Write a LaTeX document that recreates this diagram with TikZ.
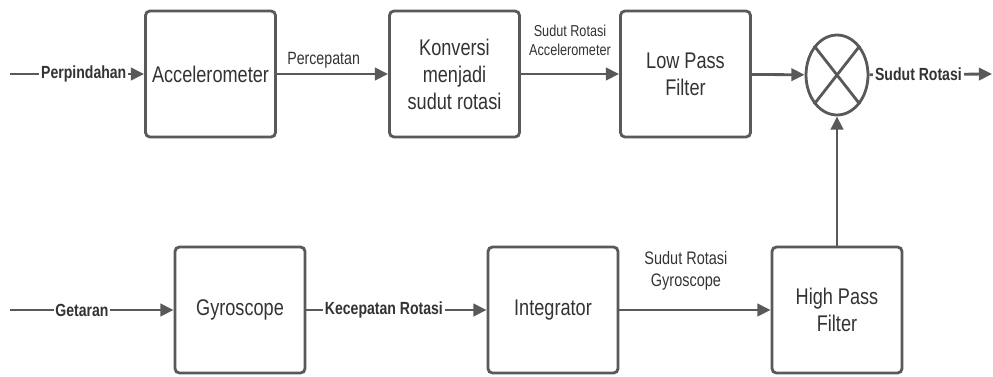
\documentclass[tikz,border=0pt]{standalone}
\usepackage{fontspec}
\setmainfont{Liberation Sans}[FakeStretch=0.8]
\usetikzlibrary{arrows.meta,shapes.geometric}

\definecolor{garis}{HTML}{595959}
\definecolor{teks}{HTML}{333333}

\tikzset{
  blok/.style={draw=garis, line width=1.6pt, rounded corners=2.5pt, minimum width=2.6cm,
    minimum height=2.52cm, align=center, text=teks, font=\fontsize{12.9}{15.4}\selectfont},
  panah/.style={draw=garis, line width=1.6pt, -{Triangle[length=7.5pt,width=7pt]}},
  labeltebal/.style={fill=white, inner sep=1pt, text=teks, font=\bfseries\fontsize{10}{11}\selectfont},
  labelatas/.style={above, inner sep=2.5pt, text=teks, align=center},
}

\begin{document}
\begin{tikzpicture}[x=0.02cm, y=-0.02cm]
  \useasboundingbox (0,0) rectangle (993,376);
  \foreach \nama/\x/\y/\isi in {acc/210.5/74/{Accelerometer},
      konv/454.5/74/{Konversi\\menjadi\\sudut rotasi},
      lpf/685.5/74/{Low Pass\\Filter},
      gyro/240/310/{Gyroscope},
      integ/553/310/{Integrator},
      hpf/837/310/{High Pass\\Filter}} {
    \node[blok] (\nama) at (\x,\y) {\isi};
  }
  \node[ellipse, draw=garis, line width=1.6pt, inner sep=0pt, minimum width=1.24cm,
    minimum height=1.6cm] (mix) at (837,75) {};
  \draw[garis, line width=1.6pt] (mix.north west) -- (mix.south east);
  \draw[garis, line width=1.6pt] (mix.north east) -- (mix.south west);
  \coordinate (masuk1) at (10,74);
  \coordinate (masuk2) at (10,310);
  \coordinate (keluar) at (992,74);

  \draw[panah] (masuk1) -- node[labeltebal, pos=0.55] {Perpindahan} (acc);
  \draw[panah] (acc) -- node[labelatas, pos=0.42, font=\fontsize{10.1}{11}\selectfont] {Percepatan} (konv);
  \draw[panah] (konv) -- node[labelatas, yshift=7pt, font=\fontsize{9}{10.8}\selectfont] {Sudut Rotasi\\Accelerometer} (lpf);
  \draw[panah] (lpf) -- (mix);
  \draw[panah] (mix) -- node[labeltebal, pos=0.4] {Sudut Rotasi} (keluar);

  \draw[panah] (masuk2) -- node[labeltebal, pos=0.44] {Getaran} (gyro);
  \draw[panah] (gyro) -- node[labeltebal, pos=0.43] {Kecepatan Rotasi} (integ);
  \draw[panah] (integ) -- node[labelatas, pos=0.44, yshift=8pt, font=\fontsize{10.3}{12.5}\selectfont] {Sudut Rotasi\\Gyroscope} (hpf);
  \draw[panah] (hpf) -- (mix);
\end{tikzpicture}
\end{document}
